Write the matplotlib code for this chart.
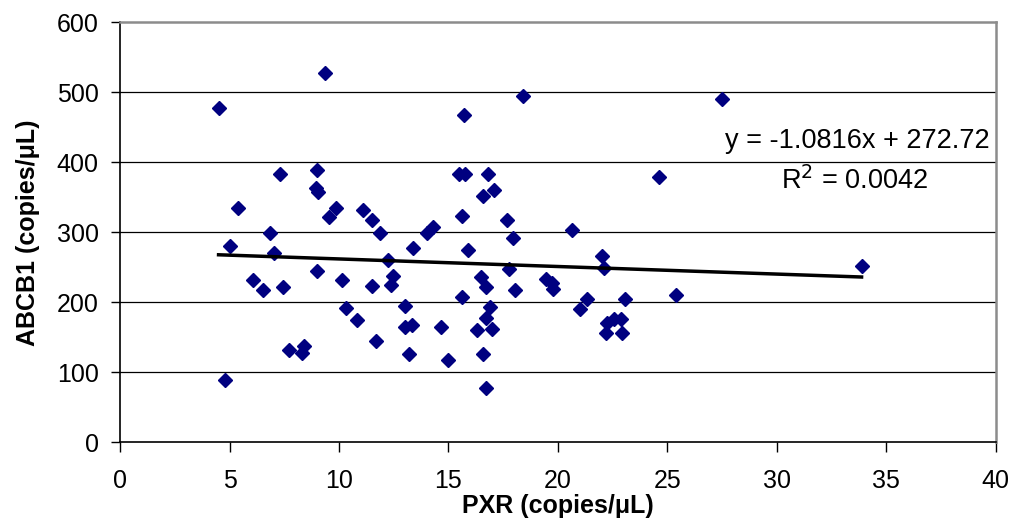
import numpy as np
import matplotlib
matplotlib.use('Agg')
import matplotlib.pyplot as plt

plt.rcParams['font.family'] = ['Liberation Sans', 'DejaVu Sans']

# PXR vs ABCB1 (copies/uL)
pxr = [4.5, 4.8, 5.0, 5.4, 6.06, 6.54, 6.85, 7.03, 7.32, 7.43, 7.72, 8.3, 8.42,
       8.98, 8.95, 9.05, 9.36, 8.98, 9.54, 9.85, 10.14, 10.32, 10.81, 11.08,
       11.49, 11.87, 11.49, 11.67, 12.25, 12.45, 12.36, 13.01, 13.0, 13.21,
       13.32, 13.39, 14.0, 14.28, 14.64, 14.96, 15.63, 15.63, 15.91, 15.72,
       15.49, 15.75, 16.79, 17.09, 16.59, 17.66, 20.65, 24.61, 18.42, 16.48,
       16.7, 16.89, 16.7, 16.32, 17.0, 16.59, 16.7, 17.96, 17.76, 18.04,
       19.45, 19.71, 19.79, 21.0, 21.31, 22.0, 22.1, 22.22, 22.19, 22.57,
       22.9, 22.95, 23.06, 25.39, 27.5, 33.87]
abcb1 = [477, 89, 280, 334, 232, 217, 299, 271, 383, 222, 132, 127, 138,
         389, 363, 358, 528, 244, 322, 335, 232, 192, 175, 332,
         317, 299, 223, 144, 261, 238, 225, 195, 165, 126,
         168, 277, 299, 307, 165, 117, 323, 208, 274, 467,
         383, 383, 383, 361, 352, 317, 303, 379, 495, 236,
         222, 193, 177, 160, 162, 126, 77, 292, 247, 217,
         233, 227, 219, 191, 205, 266, 249, 171, 156, 176,
         176, 156, 205, 210, 491, 252]

# Excel linear trendline shown on the chart
slope = -1.0816
intercept = 272.72
r2 = 0.0042

fig = plt.figure(figsize=(10.13, 5.30), dpi=100)
ax = fig.add_axes([0.1185, 0.1655, 0.8645, 0.7925])

ax.set_xlim(0, 40)
ax.set_ylim(0, 600)
ax.set_xticks(np.arange(0, 41, 5))
ax.set_yticks(np.arange(0, 601, 100))

for yv in range(100, 600, 100):
    ax.axhline(yv, color='black', lw=0.9, zorder=1)

ax.plot(pxr, abcb1, 'D', color='#000080', ms=7.5, mec='#000080', zorder=3)

xs = np.array([min(pxr), max(pxr)])
ax.plot(xs, slope * xs + intercept, color='black', lw=2.5, zorder=4)

ax.text(39.7, 430, 'y = %.4fx + %.2f' % (slope, intercept), ha='right', va='center', fontsize=19.5)
ax.text(33.56, 374, 'R$^2$ = %.4f' % r2, ha='center', va='center', fontsize=19.5)

for s in ['top', 'right']:
    ax.spines[s].set_color('#8c8c8c')
    ax.spines[s].set_linewidth(1.8)
for s in ['left', 'bottom']:
    ax.spines[s].set_color('black')
    ax.spines[s].set_linewidth(1.2)

ax.tick_params(axis='y', direction='out', length=6.5, width=1, labelsize=18, pad=9)
ax.tick_params(axis='x', direction='out', length=7, width=1, labelsize=18, pad=12)
ax.set_xlabel('PXR (copies/μL)', fontsize=18, fontweight='bold', labelpad=1)
ax.set_ylabel('ABCB1 (copies/μL)', fontsize=18, fontweight='bold', labelpad=12)

plt.savefig('out.png', dpi=100)
